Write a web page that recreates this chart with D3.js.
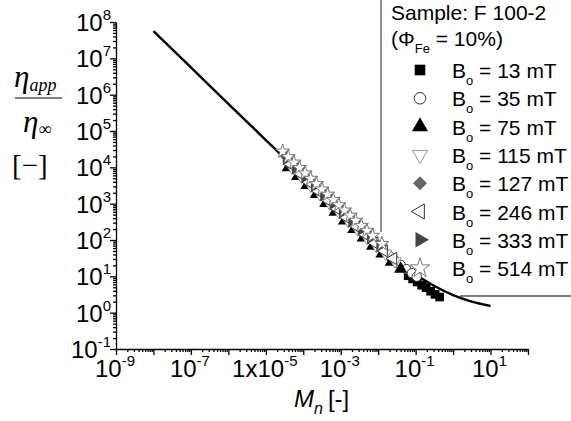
<!DOCTYPE html>
<html>
<head>
<meta charset="utf-8">
<script src="https://cdn.jsdelivr.net/npm/d3@7"></script>
<style>
  html, body { margin: 0; padding: 0; background: #fff; }
  svg { display: block; font-family: "Liberation Sans", Arial, sans-serif; }
</style>
</head>
<body>
<svg id="chart" width="571" height="421"></svg>
<script>
// fitted curve
const curveMn  = [1e-8, 1e-7, 1e-6, 1e-5, 1e-4, 1e-3, 3e-3, 1e-2, 3e-2, 1e-1, 3e-1, 1, 3, 10];
const curveEta = [5.6e7, 5.6e6, 5.6e5, 5.64e4, 5.75e3, 608, 215, 72, 28.3, 11.3, 5.6, 3.06, 2.05, 1.53];

// measured points, one pair of arrays per field strength
const mn13  = [6.31e-2, 8.32e-2, 0.11, 0.145, 0.19, 0.251, 0.331, 0.437];
const eta13 = [10.4, 8.5, 7.0, 5.7, 4.9, 3.9, 3.2, 2.7];

const mn35  = [1e-2, 1.41e-2, 2.0e-2, 2.82e-2, 3.98e-2, 5.62e-2, 7.94e-2, 0.107];
const eta35 = [66, 48.5, 36, 27, 20.6, 15.8, 12.2, 9.8];

const mn75  = [3.98e-5, 7.08e-5, 1.26e-4, 2.24e-4, 3.98e-4, 7.08e-4, 1.26e-3, 2.24e-3, 3.98e-3, 7.08e-3, 1.26e-2, 2.24e-2, 3.98e-2];
const eta75 = [1.0e4, 5.7e3, 3.2e3, 1.82e3, 1.03e3, 595, 340, 198, 116, 69, 42, 25, 16];

const mn115  = [5.01e-5, 8.91e-5, 1.58e-4, 2.82e-4, 5.01e-4, 8.91e-4, 1.58e-3, 2.82e-3, 5.01e-3, 8.91e-3, 1.58e-2, 2.82e-2];
const eta115 = [9.9e3, 5.6e3, 3.18e3, 1.81e3, 1.03e3, 592, 341, 199, 117, 69, 42, 26];

const mn127  = [3.16e-5, 5.62e-5, 1e-4, 1.78e-4, 3.16e-4, 5.62e-4, 1e-3, 1.78e-3, 3.16e-3, 5.62e-3, 1.12e-2];
const eta127 = [2.16e4, 1.22e4, 6.9e3, 3.9e3, 2.23e3, 1.27e3, 731, 423, 246, 145, 71];

const mn246  = [4.47e-5, 7.94e-5, 1.41e-4, 2.51e-4, 4.47e-4, 7.94e-4, 1.41e-3, 2.51e-3, 4.47e-3, 7.94e-3, 1.41e-2, 2.51e-2];
const eta246 = [1.22e4, 6.9e3, 3.9e3, 2.22e3, 1.26e3, 724, 418, 243, 142, 84, 51, 31];

const mn333  = [3.55e-5, 6.31e-5, 1.12e-4, 2.0e-4, 3.55e-4, 6.31e-4, 1.12e-3, 2.0e-3, 3.55e-3, 6.31e-3, 1.12e-2];
const eta333 = [1.72e4, 9.7e3, 5.5e3, 3.12e3, 1.77e3, 1.02e3, 583, 338, 197, 116, 70];

const mn514  = [2.82e-5, 3.98e-5, 5.62e-5, 7.94e-5, 1.12e-4, 1.58e-4, 2.24e-4, 3.16e-4, 4.47e-4, 6.31e-4, 8.91e-4, 1.26e-3, 1.78e-3, 2.51e-3, 3.55e-3, 5.01e-3, 7.08e-3, 1.26e-2];
const eta514 = [2.75e4, 1.93e4, 1.37e4, 9.7e3, 6.9e3, 4.9e3, 3.5e3, 2.5e3, 1.79e3, 1.28e3, 916, 658, 474, 343, 248, 181, 132, 79];

const fieldLabels = ['13', '35', '75', '115', '127', '246', '333', '514'];

// tick labels on x: exponent and prefix
const xLabelExp = [-9, -7, -5, -3, -1, 1];
const xLabelPre = ['10', '10', '1x10', '10', '10', '10'];
const yLabelExp = [-1, 0, 1, 2, 3, 4, 5, 6, 7, 8];

const svg = d3.select('#chart');

const x = d3.scaleLog().domain([1e-9, 1e2]).range([116, 528]);
const y = d3.scaleLog().domain([1e-1, 1e8]).range([349, 22]);

// all decade + minor tick values
function logTicks(lo, hi) {
  const out = [];
  for (let e = lo; e <= hi; e++) {
    for (let m = 1; m <= 9; m++) {
      if (e === hi && m > 1) break;
      out.push(m * Math.pow(10, e));
    }
  }
  return out;
}
const isMajor = v => Math.abs(Math.log10(v) - Math.round(Math.log10(v))) < 1e-9;

// x axis
const gx = svg.append('g')
  .attr('transform', 'translate(0,349)')
  .call(d3.axisBottom(x).tickValues(logTicks(-9, 2)).tickSize(3).tickSizeOuter(0).tickFormat(''));
gx.selectAll('.tick line').filter(d => isMajor(d)).attr('y2', 6);
gx.selectAll('line, path').attr('stroke', '#000').attr('stroke-width', 1.3);

// y axis
const gy = svg.append('g')
  .attr('transform', 'translate(116,0)')
  .call(d3.axisLeft(y).tickValues(logTicks(-1, 8)).tickSize(3).tickSizeOuter(0).tickFormat(''));
gy.selectAll('.tick line').filter(d => isMajor(d)).attr('x2', -6);
gy.selectAll('line, path').attr('stroke', '#000').attr('stroke-width', 1.3);

// x tick labels
xLabelExp.forEach((e, i) => {
  const t = svg.append('text')
    .attr('x', x(Math.pow(10, e)) - 1)
    .attr('y', 377)
    .attr('text-anchor', 'middle')
    .style('font-size', '24px');
  t.append('tspan').text(xLabelPre[i]);
  t.append('tspan').attr('dy', -11).style('font-size', '15px').text(e);
});

// y tick labels
yLabelExp.forEach(e => {
  const t = svg.append('text')
    .attr('x', 111)
    .attr('y', y(Math.pow(10, e)) + 9)
    .attr('text-anchor', 'end')
    .style('font-size', '24px');
  t.append('tspan').text('10');
  t.append('tspan').attr('dy', -11).style('font-size', '15px').text(e);
});

// x axis title
const xt = svg.append('text').attr('x', 294).attr('y', 407).style('font-size', '24px');
xt.append('tspan').style('font-style', 'italic').text('M');
xt.append('tspan').attr('dy', 7).style('font-style', 'italic').style('font-size', '16px').text('n');
xt.append('tspan').attr('dy', -7).attr('dx', 5).text('[-]');

// y axis title (fraction)
const serif = '"Liberation Serif", "Times New Roman", serif';
const yt1 = svg.append('text').attr('x', 14).attr('y', 87).style('font-family', serif).style('font-style', 'italic').style('font-size', '31px');
yt1.append('tspan').text('η');
yt1.append('tspan').attr('dy', 4).style('font-size', '18px').text('app');
svg.append('line').attr('x1', 15).attr('x2', 62).attr('y1', 98).attr('y2', 98).attr('stroke', '#000').attr('stroke-width', 1.2);
const yt2 = svg.append('text').attr('x', 23).attr('y', 132).style('font-family', serif).style('font-style', 'italic').style('font-size', '31px');
yt2.append('tspan').text('η');
yt2.append('tspan').attr('dy', 3).style('font-size', '18px').style('font-style', 'normal').text('∞');
svg.append('text').attr('x', 12).attr('y', 175).style('font-family', serif).style('font-size', '29px').text('[−]');

// fitted curve
const curvePts = curveMn.map((m, i) => [m, curveEta[i]]);
svg.append('path')
  .datum(curvePts)
  .attr('fill', 'none')
  .attr('stroke', '#000')
  .attr('stroke-width', 2.4)
  .attr('d', d3.line().x(d => x(d[0])).y(d => y(d[1])).curve(d3.curveMonotoneX));

// marker styles
const styles = [
  { type: d3.symbolSquare,   rot: 0,   fill: '#000', stroke: 'none', size: 75 },
  { type: d3.symbolCircle,   rot: 0,   fill: '#fff', stroke: '#333', size: 70 },
  { type: d3.symbolTriangle, rot: 0,   fill: '#000', stroke: 'none', size: 75 },
  { type: d3.symbolTriangle, rot: 180, fill: '#fff', stroke: '#999', size: 65 },
  { type: d3.symbolSquare,   rot: 45,  fill: '#666', stroke: 'none', size: 65 },
  { type: d3.symbolTriangle, rot: -90, fill: '#fff', stroke: '#333', size: 65 },
  { type: d3.symbolTriangle, rot: 90,  fill: '#444', stroke: 'none', size: 70 },
  { type: d3.symbolStar,     rot: 0,   fill: '#fff', stroke: '#777', size: 62 }
];
const seriesMn  = [mn13, mn35, mn75, mn115, mn127, mn246, mn333, mn514];
const seriesEta = [eta13, eta35, eta75, eta115, eta127, eta246, eta333, eta514];

seriesMn.forEach((mns, i) => {
  const st = styles[i];
  const pts = mns.map((m, j) => [m, seriesEta[i][j]]);
  svg.append('g').selectAll('path')
    .data(pts)
    .enter()
    .append('path')
    .attr('d', d3.symbol().type(st.type).size(st.size))
    .attr('transform', d => `translate(${x(d[0])},${y(d[1])}) rotate(${st.rot})`)
    .attr('fill', st.fill)
    .attr('stroke', st.stroke)
    .attr('stroke-width', 1);
});

// legend frame (only the parts that show)
svg.append('path')
  .attr('d', 'M381,0V232M460,296H571')
  .attr('fill', 'none')
  .attr('stroke', '#555')
  .attr('stroke-width', 1.3);

const lg = svg.append('g').style('font-size', '21px');
lg.append('text').attr('x', 391).attr('y', 20).text('Sample: F 100-2');
const phi = lg.append('text').attr('x', 391).attr('y', 46);
phi.append('tspan').text('(Φ');
phi.append('tspan').attr('dy', 7).style('font-size', '13px').text('Fe');
phi.append('tspan').attr('dy', -7).text(' = 10%)');

fieldLabels.forEach((lab, i) => {
  const cy = 70 + i * 28.3;
  const st = styles[i];
  lg.append('path')
    .attr('d', d3.symbol().type(st.type).size(i === 7 ? 120 : st.size * 1.5))
    .attr('transform', `translate(420,${cy}) rotate(${st.rot})`)
    .attr('fill', st.fill)
    .attr('stroke', st.stroke)
    .attr('stroke-width', 1);
  const t = lg.append('text').attr('x', 452).attr('y', cy + 8);
  t.append('tspan').text('B');
  t.append('tspan').attr('dy', 7).style('font-size', '13px').text('o');
  t.append('tspan').attr('dy', -7).text(` = ${lab} mT`);
});
</script>
</body>
</html>
